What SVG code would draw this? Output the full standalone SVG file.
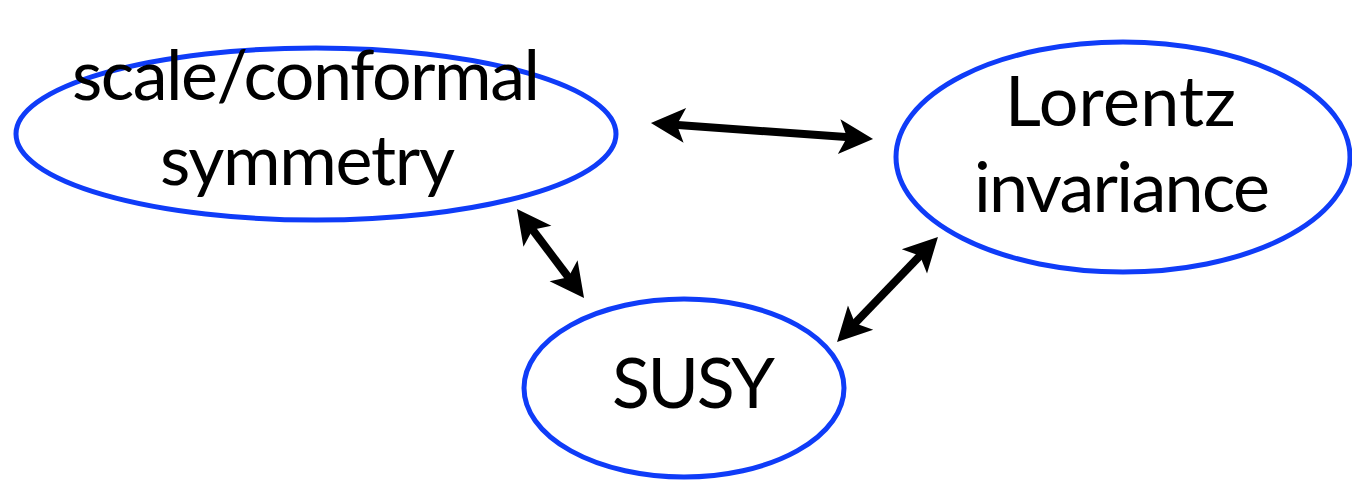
<svg xmlns="http://www.w3.org/2000/svg" width="1352" height="489" viewBox="0 0 1352 489">
  <style>
    .node ellipse { fill: #ffffff; stroke: #0f3cf8; stroke-width: 5; }
    .node text { font-family: "Lato", "Open Sans", "Liberation Sans", sans-serif; font-size: 70px; fill: #000000; text-anchor: middle; }
    .conn line { stroke: #000000; stroke-width: 8; marker-start: url(#ah); marker-end: url(#ah); }
  </style>
  <defs>
    <marker id="ah" markerUnits="userSpaceOnUse" orient="auto-start-reverse" markerWidth="40" markerHeight="40" viewBox="0 0 40 40" refX="14" refY="20" overflow="visible">
      <path d="M34,20 L0,2.5 L8,20 L0,37.5 Z" fill="#000000"/>
    </marker>
  </defs>
  <rect width="1352" height="489" fill="#ffffff"/>
  <g id="node-scale" class="node">
    <ellipse cx="316" cy="134" rx="300" ry="86"/>
    <text x="306" y="100" textLength="468">scale/conformal</text>
    <text x="307.5" y="185" textLength="295">symmetry</text>
  </g>
  <g id="node-lorentz" class="node">
    <ellipse cx="1123" cy="157" rx="227" ry="115"/>
    <text x="1120.5" y="126" textLength="231">Lorentz</text>
    <text x="1122" y="212" textLength="296">invariance</text>
  </g>
  <g id="node-susy" class="node">
    <ellipse cx="684" cy="388" rx="160" ry="89"/>
    <text x="693.5" y="408" textLength="163">SUSY</text>
  </g>
  <g id="connectors" class="conn">
    <line x1="670.9" y1="124.4" x2="853.1" y2="137.6"/>
    <line x1="529.0" y1="225.0" x2="572.0" y2="282.0"/>
    <line x1="924.1" y1="251.4" x2="850.9" y2="327.6"/>
  </g>
</svg>
